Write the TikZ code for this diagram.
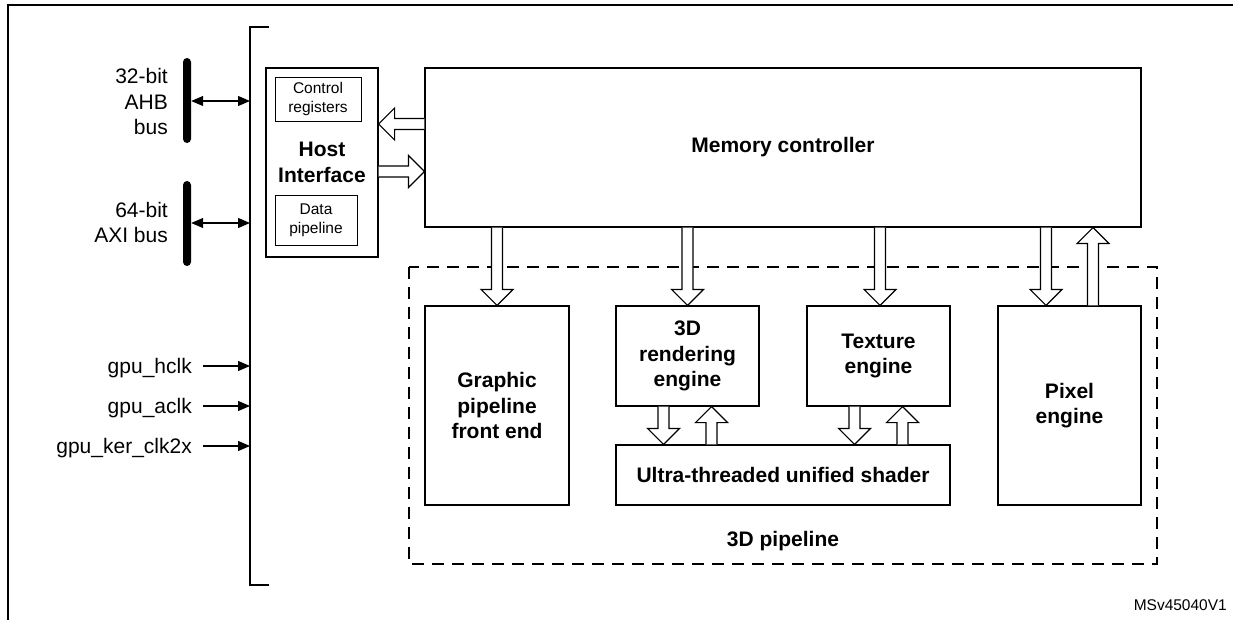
\documentclass[tikz,border=0pt]{standalone}
\usepackage{fontspec}
\setmainfont{Liberation Sans}
\usetikzlibrary{calc,arrows.meta}
\newcommand\fatarrow[2]{%
  \draw[fat] let \p1=#1, \p2=#2, \n1={veclen(\x2-\x1,\y2-\y1)}, \n2={atan2(\y2-\y1,\x2-\x1)} in
  [shift={(\p1)}, rotate=\n2] (0pt,-5.5pt) -- (\n1-16pt,-5.5pt) -- (\n1-16pt,-16pt) -- (\n1,0pt) -- (\n1-16pt,16pt) -- (\n1-16pt,5.5pt) -- (0pt,5.5pt);}
\begin{document}
\begin{tikzpicture}[x=1pt,y=-1pt,
  box/.style={draw, line width=1.2pt, inner sep=0pt},
  inbox/.style={draw, line width=0.8pt, inner sep=0pt, font=\fontsize{15.5}{19}\selectfont, align=center},
  big/.style={font=\fontsize{21}{25.5}\selectfont, align=center, inner sep=0pt},
  bigb/.style={font=\bfseries\fontsize{21}{25.5}\selectfont, align=center},
  fat/.style={draw, line width=1.2pt, fill=white, line join=miter},
  sig/.style={-{Triangle[length=12pt,width=10pt]}, line width=1.2pt},
  bus/.style={fill=black, rounded corners=4pt, minimum width=8pt, inner sep=0pt, draw=none},
]
\useasboundingbox (0,0) rectangle (1233,620);
\draw[line width=2.2pt] (1233,5) -- (8,5) -- (8,620);

% bracket
\coordinate (brt) at (250,27);
\coordinate (brb) at (250,585);
\draw[line width=1.2pt] (269,27) -- (brt) -- (brb) -- (269,585);

% buses
\node[bus, minimum height=85pt] (ahb) at (187,100.5) {};
\node[bus, minimum height=85pt] (axi) at (187,223.5) {};
\node[big, align=right, anchor=east] (ahbl) at (168,101.5) {32-bit\\AHB\\bus};
\node[big, align=right, anchor=east] (axil) at (168,222.5) {64-bit\\AXI bus};
\draw[{Triangle[length=12pt,width=10pt]}-{Triangle[length=12pt,width=10pt]}, line width=1.2pt] (ahb.east |- 0,101) -- (brt |- 0,101);
\draw[{Triangle[length=12pt,width=10pt]}-{Triangle[length=12pt,width=10pt]}, line width=1.2pt] (axi.east |- 0,223) -- (brt |- 0,223);

% clocks
\node[big, anchor=base east] (hclk) at (192,373) {gpu\_hclk};
\node[big, anchor=base east] (aclk) at (192,413) {gpu\_aclk};
\node[big, anchor=base east] (kclk) at (192,453) {gpu\_ker\_clk2x};
\draw[sig] ([shift={(11,-7)}]hclk.base east) -- (brt |- 0,366);
\draw[sig] ([shift={(11,-7)}]aclk.base east) -- (brt |- 0,406);
\draw[sig] ([shift={(11,-7)}]kclk.base east) -- (brt |- 0,446);

% host interface
\node[box, bigb, minimum width=112pt, minimum height=189pt] (hi) at (322,162.5) {Host\\Interface};
\node[inbox, minimum width=86pt, minimum height=44pt] (cr) at (318,99) {Control\\registers};
\node[inbox, minimum width=82pt, minimum height=50pt] (dp) at (316,220) {Data\\pipeline};

% memory controller
\node[box, bigb, minimum width=716pt, minimum height=159pt] (mc) at (783,147.5) {Memory controller};

% 3D pipeline
\draw[line width=1.3pt, dash pattern=on 12pt off 8pt] (409,267) rectangle (1157,564);
\node[bigb] (pl) at (783,541) {3D pipeline};
\node[box, bigb, minimum width=144pt, minimum height=199pt] (gp) at (497,405.5) {Graphic\\pipeline\\front end};
\node[box, bigb, minimum width=143pt, minimum height=100pt] (re) at (687.5,356) {3D\\rendering\\engine};
\node[box, bigb, minimum width=143pt, minimum height=100pt] (te) at (878.5,356) {Texture\\engine};
\node[box, bigb, minimum width=334pt, minimum height=60pt] (us) at (783,475) {Ultra-threaded unified shader};
\node[box, bigb, minimum width=143pt, minimum height=199pt] (pe) at (1069.5,405.5) {Pixel\\engine};

% block arrows
\fatarrow{(mc.west |- 0,124)}{(hi.east |- 0,124)}
\fatarrow{(hi.east |- 0,171.5)}{(mc.west |- 0,171.5)}
\fatarrow{(gp.north |- mc.south)}{(gp.north)}
\fatarrow{(re.north |- mc.south)}{(re.north)}
\fatarrow{($(te.north |- mc.south)+(1.5,0)$)}{($(te.north)+(1.5,0)$)}
\fatarrow{($(pe.north |- mc.south)+(-23.5,0)$)}{($(pe.north)+(-23.5,0)$)}
\fatarrow{($(pe.north)+(23.5,0)$)}{($(pe.north |- mc.south)+(23.5,0)$)}
\fatarrow{($(re.south)+(-24,0)$)}{($(us.north -| re.south)+(-24,0)$)}
\fatarrow{($(us.north -| re.south)+(24,0)$)}{($(re.south)+(24,0)$)}
\fatarrow{($(te.south)+(-24,0)$)}{($(us.north -| te.south)+(-24,0)$)}
\fatarrow{($(us.north -| te.south)+(24,0)$)}{($(te.south)+(24,0)$)}

\node[font=\fontsize{15.5}{19}\selectfont, anchor=east, inner sep=0pt] (id) at (1227,605) {MSv45040V1};
\end{tikzpicture}
\end{document}
